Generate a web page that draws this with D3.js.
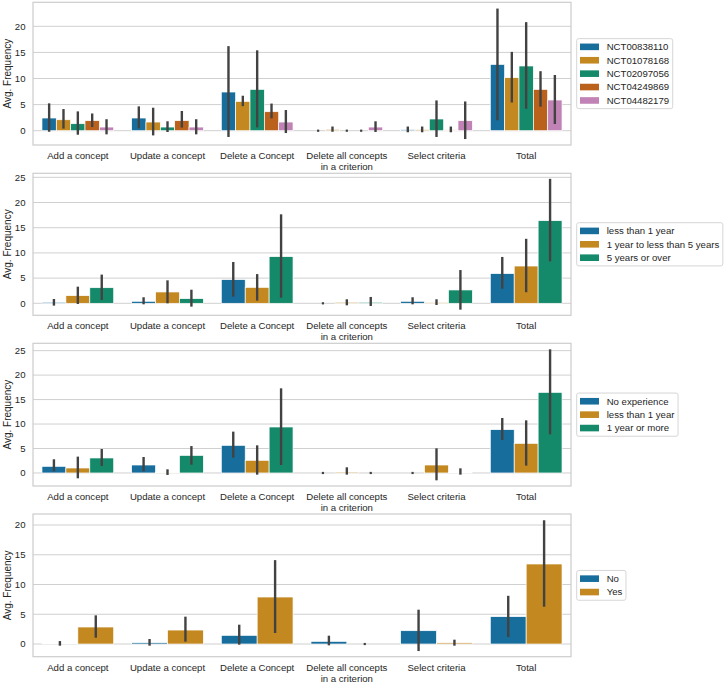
<!DOCTYPE html>
<html><head><meta charset="utf-8">
<script src="https://cdn.jsdelivr.net/npm/d3@7"></script>
<style>html,body{margin:0;padding:0;background:#fff;}svg{display:block;font-family:"Liberation Sans",Arial,sans-serif;}</style>
</head><body>
<svg id="chart" width="724" height="684"></svg>
<script>
// ---------- data ----------
const categories = ["Add a concept", "Update a concept", "Delete a Concept", "Delete all concepts\nin a criterion", "Select criteria", "Total"];

// Panel 1: trials
const hues1 = ["NCT00838110", "NCT01078168", "NCT02097056", "NCT04249869", "NCT04482179"];
const means1 = [
  [2.43, 2.43, 7.41, 0, 0.2, 12.7],
  [2.1, 1.66, 5.62, 0.25, 0.2, 10.16],
  [1.34, 0.7, 7.92, 0, 2.24, 12.4],
  [1.92, 1.92, 3.64, 0, 0.15, 7.92],
  [0.7, 0.7, 1.66, 0.7, 1.92, 5.88]
];
const lo1 = [
  [-0.2, 0.45, -1.2, 0, -0.3, 2.0],
  [0.4, -0.9, 4.7, -0.2, -0.3, 5.4],
  [-0.77, -0.25, 0.64, 0, -1.2, 4.2],
  [0.7, 0.6, 2.36, 0, -0.3, 4.6],
  [-0.7, -0.7, -0.45, -0.25, -1.6, 1.28]
];
const hi1 = [
  [5.24, 4.66, 16.2, 0, 0.8, 23.4],
  [4.15, 4.4, 6.7, 0.8, 0.8, 15.1],
  [3.7, 1.8, 15.4, 0, 5.8, 20.8],
  [3.3, 3.77, 5.2, 0, 0.8, 11.4],
  [2.2, 2.2, 3.96, 1.8, 5.6, 10.67]
];

// Panel 2: years of experience
const hues2 = ["less than 1 year", "1 year to less than 5 years", "5 years or over"];
const means2 = [
  [0.2, 0.4, 4.7, 0, 0.4, 5.9],
  [1.52, 2.25, 3.17, 0.2, 0.12, 7.4],
  [3.1, 0.93, 9.26, 0.2, 2.65, 16.4]
];
const lo2 = [
  [-0.46, -0.2, 1.32, 0, -0.2, 2.9],
  [-0.13, 0, 0.53, -0.4, -0.33, 2.2],
  [0.66, -0.66, 1.12, -0.53, -1.26, 8.33]
];
const hi2 = [
  [0.86, 1.2, 8.2, 0, 1.2, 9.2],
  [3.3, 4.56, 5.8, 0.8, 0.8, 12.8],
  [5.7, 2.7, 17.66, 1.26, 6.6, 24.7]
];

// Panel 3: experience
const hues3 = ["No experience", "less than 1 year", "1 year or more"];
const means3 = [
  [1.36, 1.63, 5.65, 0, 0, 8.86],
  [1.02, 0.15, 2.59, 0.2, 1.63, 6.06],
  [3.07, 3.6, 9.4, 0, 0.14, 16.48]
];
const lo3 = [
  [0.34, 0.34, 3.13, 0, 0, 6.74],
  [-1.09, -0.4, -0.34, -0.34, -1.5, 1.5],
  [1.43, 1.7, 1.63, 0, -0.34, 7.9]
];
const hi3 = [
  [2.8, 3.27, 8.45, 0, 0, 11.24],
  [3.34, 0.75, 5.65, 1.16, 5.04, 10.76],
  [4.9, 5.5, 17.3, 0, 0.95, 25.27]
];

// Panel 4: yes / no
const hues4 = ["No", "Yes"];
const means4 = [
  [0.1, 0.22, 1.46, 0.45, 2.24, 4.6],
  [2.86, 2.35, 7.9, 0, 0.2, 13.45]
];
const lo4 = [
  [-0.28, -0.28, -0.11, -0.22, -1.18, 1.18],
  [1.06, 0.4, 1.85, 0, -0.28, 6.27]
];
const hi4 = [
  [0.5, 0.84, 3.25, 1.4, 5.77, 8.1],
  [4.82, 4.6, 14.1, 0, 0.73, 20.8]
];

const yLabel = "Avg. Frequency";

// ---------- styles / layout ----------
const colors = ["#176d9c", "#c38820", "#158a6a", "#ba611b", "#c183b6"];
const panels = [
  {hues: hues1, means: means1, lo: lo1, hi: hi1, top: 2.3, bottom: 145, domain: [-2.74, 24.6]},
  {hues: hues2, means: means2, lo: lo2, hi: hi2, top: 173.3, bottom: 315.3, domain: [-2.38, 25.8]},
  {hues: hues3, means: means3, lo: lo3, hi: hi3, top: 343.3, bottom: 486, domain: [-2.66, 26.5]},
  {hues: hues4, means: means4, lo: lo4, hi: hi4, top: 514, bottom: 656.7, domain: [-2.13, 21.85]}
];
const left = 33, right = 571;
const textColor = "#262626";
const fontSize = 9.6;
const svg = d3.select("#chart");

const xGroup = d3.scaleBand().domain(categories).range([left, right]).padding(0);

panels.forEach(p => {
  const g = svg.append("g");
  const y = d3.scaleLinear().domain(p.domain).range([p.bottom, p.top]);
  const ticks = d3.range(0, p.domain[1], 5);
  // grid
  g.selectAll("line.grid").data(ticks).join("line")
    .attr("x1", left).attr("x2", right)
    .attr("y1", d => y(d)).attr("y2", d => y(d))
    .attr("stroke", "#d0d0d0").attr("stroke-width", 1);
  // y tick labels
  g.selectAll("text.yt").data(ticks).join("text")
    .attr("x", left - 7.5).attr("y", d => y(d)).attr("dy", "0.35em")
    .attr("text-anchor", "end").attr("font-size", fontSize).attr("fill", textColor)
    .text(d => d);
  // y label
  g.append("text")
    .attr("transform", `translate(10.8,${(p.top + p.bottom) / 2}) rotate(-90)`)
    .attr("text-anchor", "middle").attr("font-size", fontSize + 0.4).attr("fill", textColor)
    .text(yLabel);
  const xHue = d3.scaleBand().domain(p.hues)
    .range([xGroup.bandwidth() * 0.1, xGroup.bandwidth() * 0.9]).padding(0);
  // bars
  p.hues.forEach((h, hi) => {
    const rows = categories.map((c, ci) => ({c, v: p.means[hi][ci], lo: p.lo[hi][ci], hi: p.hi[hi][ci]}));
    g.selectAll(null).data(rows).join("rect")
      .attr("x", d => xGroup(d.c) + xHue(h))
      .attr("width", xHue.bandwidth())
      .attr("y", d => Math.min(y(d.v), y(0)))
      .attr("height", d => Math.abs(y(0) - y(d.v)))
      .attr("fill", colors[hi])
      .attr("stroke", "#ffffff").attr("stroke-width", 0.7);
  });
  // error bars
  p.hues.forEach((h, hi) => {
    const rows = categories.map((c, ci) => ({c, lo: p.lo[hi][ci], hi: p.hi[hi][ci]}));
    rows.forEach(d => {
      const cx = xGroup(d.c) + xHue(h) + xHue.bandwidth() / 2;
      if (d.hi - d.lo < 0.01) {
        g.append("rect").attr("x", cx - 1.1).attr("y", y(d.lo) - 1.1)
          .attr("width", 2.2).attr("height", 2.2).attr("fill", "#424242");
      } else {
        g.append("line").attr("x1", cx).attr("x2", cx)
          .attr("y1", y(d.lo)).attr("y2", y(d.hi))
          .attr("stroke", "#424242").attr("stroke-width", 2.4);
      }
    });
  });
  // frame
  g.append("rect").attr("x", left).attr("y", p.top)
    .attr("width", right - left).attr("height", p.bottom - p.top)
    .attr("fill", "none").attr("stroke", "#cccccc").attr("stroke-width", 1.2);
  // x labels
  categories.forEach(c => {
    const lines = c.split("\n");
    const t = g.append("text").attr("text-anchor", "middle")
      .attr("font-size", fontSize).attr("fill", textColor);
    lines.forEach((ln, i) => {
      t.append("tspan").attr("x", xGroup(c) + xGroup.bandwidth() / 2)
        .attr("y", p.bottom + 14 + i * 11).text(ln);
    });
  });
  // legend
  const step = 13.4;
  const n = p.hues.length;
  const boxH = n * step + 3;
  const mid = (p.top + p.bottom) / 2;
  const boxTop = mid - boxH / 2;
  const lg = g.append("g");
  const box = lg.append("rect").attr("x", 576.7).attr("y", boxTop).attr("height", boxH)
    .attr("rx", 2).attr("fill", "#ffffff").attr("stroke", "#d6d6d6").attr("stroke-width", 1);
  let maxW = 0;
  p.hues.forEach((h, i) => {
    const cy = boxTop + 1.5 + step * (i + 0.5);
    lg.append("rect").attr("x", 580).attr("y", cy - 3.3).attr("width", 19).attr("height", 6.6)
      .attr("fill", colors[i]);
    const t = lg.append("text").attr("x", 606.7).attr("y", cy).attr("dy", "0.35em")
      .attr("font-size", fontSize).attr("fill", textColor).text(h);
    maxW = Math.max(maxW, t.node().getComputedTextLength());
  });
  box.attr("width", 606.7 - 576.7 + maxW + 3.6);
});
</script>
</body></html>
